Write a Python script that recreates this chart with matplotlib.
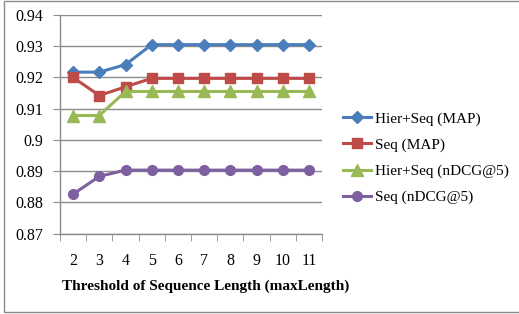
import matplotlib
matplotlib.use("Agg")
import matplotlib.pyplot as plt
from matplotlib.patches import Rectangle

plt.rcParams["font.family"] = ["Liberation Serif", "DejaVu Serif"]

# dados
categorias = ["2", "3", "4", "5", "6", "7", "8", "9", "10", "11"]
hier_seq_map = [0.9217, 0.9217, 0.9241, 0.9305, 0.9305, 0.9305, 0.9305, 0.9305, 0.9305, 0.9305]
seq_map = [0.9200, 0.9142, 0.9170, 0.9197, 0.9197, 0.9197, 0.9197, 0.9197, 0.9197, 0.9197]
hier_seq_ndcg = [0.9078, 0.9078, 0.9155, 0.9155, 0.9155, 0.9155, 0.9155, 0.9155, 0.9155, 0.9155]
seq_ndcg = [0.8826, 0.8883, 0.8903, 0.8903, 0.8903, 0.8903, 0.8903, 0.8903, 0.8903, 0.8903]
yticks = [0.87, 0.88, 0.89, 0.9, 0.91, 0.92, 0.93, 0.94]
ylabels = ["0.87", "0.88", "0.89", "0.9", "0.91", "0.92", "0.93", "0.94"]

W, H = 519, 314
fig = plt.figure(figsize=(W / 100, H / 100), dpi=100)
fig.patch.set_facecolor("white")

# borda do grafico (estilo Excel)
fig.patches.append(Rectangle((4.5 / W, 1 - 311.5 / H), 1.2, 311 / H,
                             transform=fig.transFigure, fill=False,
                             edgecolor="#8c8c8c", lw=1.0))

ax = fig.add_axes([60 / W, 1 - 233.5 / H, 262 / W, 218.5 / H])
x = list(range(len(categorias)))

series = [
    (hier_seq_map, "Hier+Seq (MAP)", "#4A7EBB", "D", 6),
    (seq_map, "Seq (MAP)", "#BE4B48", "s", 7),
    (hier_seq_ndcg, "Hier+Seq (nDCG@5)", "#98B954", "^", 8),
    (seq_ndcg, "Seq (nDCG@5)", "#7D60A0", "o", 7),
]
for vals, nome, cor, mk, ms in series:
    ax.plot(x, vals, color=cor, lw=2.2, marker=mk, markersize=ms,
            markerfacecolor=cor, markeredgecolor=cor, label=nome, zorder=3)

ax.set_xlim(-0.5, len(categorias) - 0.5)
ax.set_ylim(0.87, 0.94)
ax.set_yticks(yticks)
ax.set_yticklabels(ylabels, fontsize=11.5)
ax.set_xticks(x)
ax.set_xticklabels(categorias, fontsize=11.5)
ax.set_xticks([i - 0.5 for i in range(len(categorias) + 1)], minor=True)
ax.tick_params(axis="x", which="major", length=0, pad=14)
ax.tick_params(axis="x", which="minor", length=5, color="#8c8c8c", direction="out")
ax.tick_params(axis="y", length=5, color="#8c8c8c", direction="out", pad=7)

ax.grid(axis="y", color="#8c8c8c", lw=1.0)
ax.set_axisbelow(True)
for s in ["top", "right"]:
    ax.spines[s].set_visible(False)
for s in ["left", "bottom"]:
    ax.spines[s].set_color("#8c8c8c")
    ax.spines[s].set_linewidth(1.0)

fig.text(206 / W, 1 - 286 / H, "Threshold of Sequence Length (maxLength)",
         ha="center", va="center", fontsize=11, fontweight="bold")

fig.legend(loc="upper left", bbox_to_anchor=(343 / W, 1 - 112 / H),
           frameon=False, fontsize=11, handlelength=1.8, handletextpad=0.3,
           labelspacing=0.8, borderaxespad=0, borderpad=0)

fig.savefig("out.png", dpi=100)
